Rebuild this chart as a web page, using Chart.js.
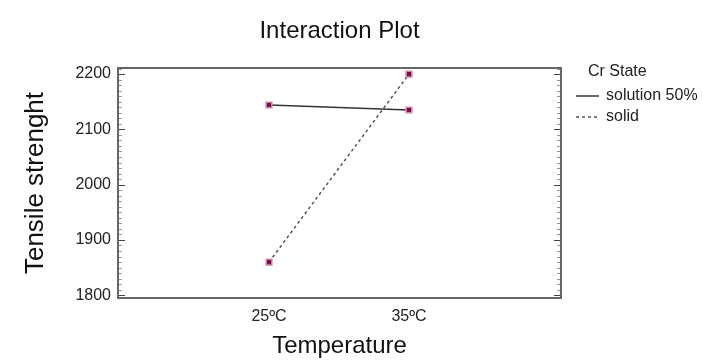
<!DOCTYPE html>
<html lang="en">
<head>
<meta charset="utf-8">
<title>Interaction Plot</title>
<style>
  html, body { margin: 0; padding: 0; background: #fff; }
  #wrap { width: 702px; height: 361px; }
</style>
</head>
<body>
<div id="wrap"><canvas id="interactionChart" width="702" height="361"></canvas></div>

<script src="https://cdn.jsdelivr.net/npm/chart.js"></script>
<script>
    // values
    const temperatures = ['25ºC', '35ºC'];
    const solutionValues = [2144, 2135];
    const solidValues = [1860, 2200];
    const seriesNames = ['solution 50%', 'solid'];
    const yTickValues = [1800, 1900, 2000, 2100, 2200];
    const legendTitle = 'Cr State';

    const FONT = "'Liberation Sans', Arial, sans-serif";

    function toPoints(values) {
        return values.map((v, i) => ({ x: i + 1, y: v }));
    }

    // box round the plot, with small ticks pointing inwards on left and right
    const framePlugin = {
        id: 'frame',
        afterDraw(chart) {
            const { ctx, chartArea: a, scales } = chart;
            const y = scales.y;
            ctx.save();
            for (let v = yTickValues[0]; v <= y.max; v += 10) {
                const py = Math.round(y.getPixelForValue(v)) + 0.5;
                const major = v % 100 === 0;
                const len = major ? 7 : 4;
                ctx.strokeStyle = major ? '#444' : '#999';
                ctx.lineWidth = 1;
                ctx.beginPath();
                ctx.moveTo(a.left, py); ctx.lineTo(a.left + len, py);
                ctx.moveTo(a.right, py); ctx.lineTo(a.right - len, py);
                ctx.stroke();
            }
            ctx.strokeStyle = '#666';
            ctx.lineWidth = 2;
            ctx.strokeRect(a.left, a.top, a.right - a.left, a.bottom - a.top);
            ctx.restore();
        }
    };

    // legend at the right, like the original
    const legendPlugin = {
        id: 'sideLegend',
        afterDraw(chart) {
            const { ctx } = chart;
            ctx.save();
            ctx.font = '16px ' + FONT;
            ctx.fillStyle = '#222';
            ctx.textBaseline = 'middle';
            ctx.textAlign = 'left';
            ctx.fillText(legendTitle, 588, 72);
            chart.data.datasets.forEach((ds, i) => {
                const ly = 96 + i * 21;
                ctx.strokeStyle = ds.borderColor;
                ctx.lineWidth = 1.5;
                ctx.setLineDash(ds.borderDash || []);
                ctx.beginPath();
                ctx.moveTo(576, ly); ctx.lineTo(599, ly);
                ctx.stroke();
                ctx.setLineDash([]);
                ctx.fillStyle = '#222';
                ctx.fillText(ds.label, 606, ly);
            });
            ctx.restore();
        }
    };

    const ctx = document.getElementById('interactionChart').getContext('2d');
    new Chart(ctx, {
        type: 'line',
        data: {
            datasets: [
                {
                    label: seriesNames[0],
                    data: toPoints(solutionValues),
                    borderColor: '#333',
                    borderWidth: 1.5,
                    pointStyle: 'rect',
                    pointRadius: 4,
                    pointBorderWidth: 1.5,
                    pointBackgroundColor: '#7a0f45',
                    pointBorderColor: '#d284ae'
                },
                {
                    label: seriesNames[1],
                    data: toPoints(solidValues),
                    borderColor: '#555',
                    borderWidth: 1.5,
                    borderDash: [3, 3],
                    pointStyle: 'rect',
                    pointRadius: 4,
                    pointBorderWidth: 1.5,
                    pointBackgroundColor: '#7a0f45',
                    pointBorderColor: '#d284ae'
                }
            ]
        },
        options: {
            responsive: false,
            animation: false,
            devicePixelRatio: 1,
            layout: { padding: { left: 0, right: 141, top: 0, bottom: 0 } },
            plugins: {
                legend: { display: false },
                tooltip: { enabled: false },
                title: {
                    display: true,
                    text: 'Interaction Plot',
                    fullSize: false,
                    color: '#111',
                    font: { family: FONT, size: 24, weight: 'normal' },
                    padding: { top: 17, bottom: 22.2 }
                }
            },
            scales: {
                x: {
                    type: 'linear',
                    min: -0.079,
                    max: 3.086,
                    grid: { display: false, drawTicks: false },
                    border: { display: false },
                    afterBuildTicks: (scale) => {
                        scale.ticks = temperatures.map((t, i) => ({ value: i + 1 }));
                    },
                    afterFit: (scale) => { scale.height = 63; },
                    ticks: {
                        padding: 9,
                        color: '#222',
                        font: { family: FONT, size: 16 },
                        maxRotation: 0,
                        callback: (v) => temperatures[v - 1]
                    },
                    title: {
                        display: true,
                        text: 'Temperature',
                        color: '#111',
                        font: { family: FONT, size: 24 },
                        padding: { top: 0, bottom: 0 }
                    }
                },
                y: {
                    min: 1795,
                    max: 2211,
                    grid: { display: false, drawTicks: false },
                    border: { display: false },
                    afterBuildTicks: (scale) => {
                        scale.ticks = yTickValues.map(v => ({ value: v }));
                    },
                    afterFit: (scale) => { scale.width = 118; },
                    ticks: {
                        padding: 7,
                        color: '#222',
                        font: { family: FONT, size: 16 },
                        callback: (v) => String(v)
                    },
                    title: {
                        display: true,
                        text: 'Tensile strenght',
                        color: '#111',
                        font: { family: FONT, size: 26 },
                        padding: { top: 20, bottom: 0 }
                    }
                }
            }
        },
        plugins: [framePlugin, legendPlugin]
    });
</script>
</body>
</html>
